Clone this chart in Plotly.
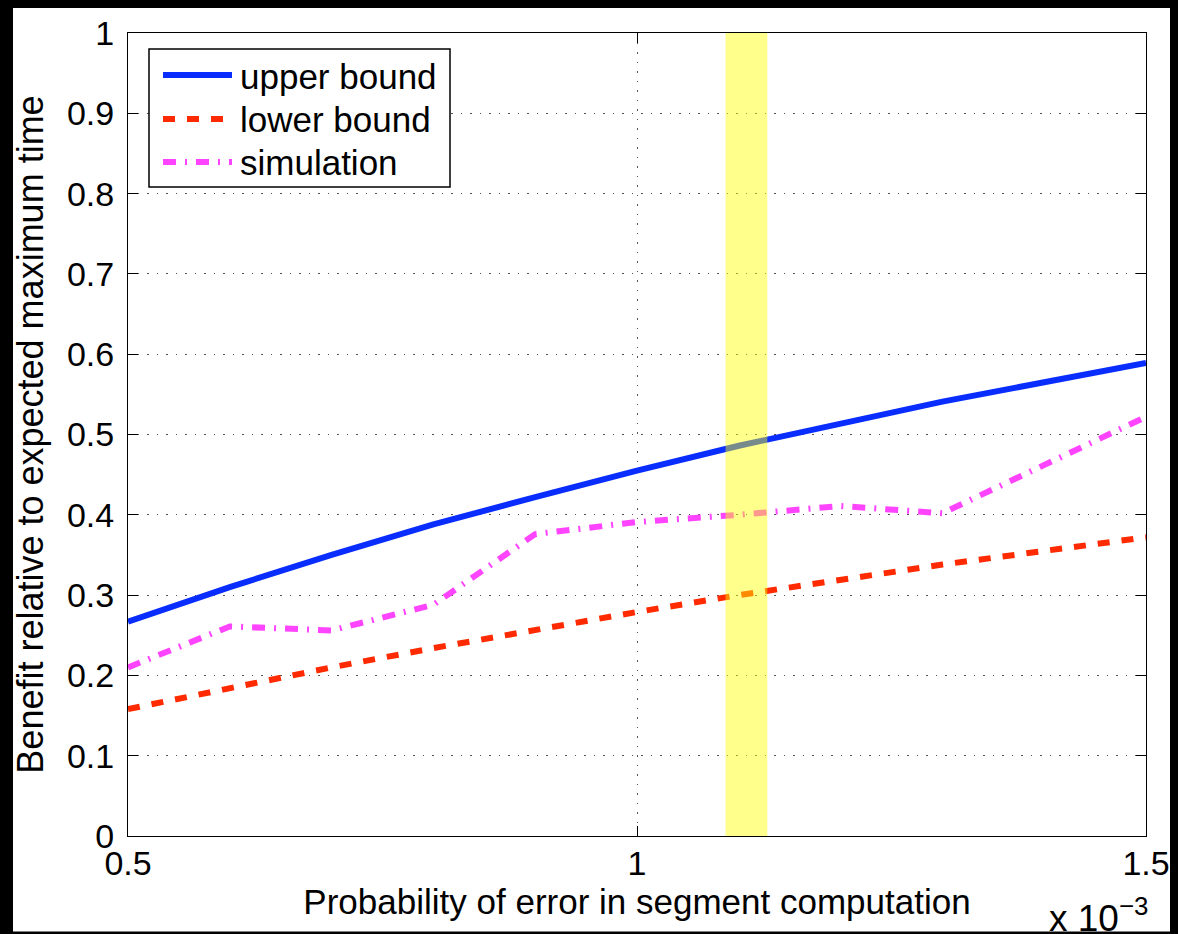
import plotly.graph_objects as go

# ---------------- data ----------------
x_vals = [0.5, 0.6, 0.7, 0.8, 0.9, 1.0, 1.1, 1.2, 1.3, 1.4, 1.5]  # x 10^-3
upper_bound = [0.267, 0.310, 0.350, 0.388, 0.422, 0.455, 0.486, 0.514, 0.541, 0.565, 0.589]
lower_bound = [0.158, 0.184, 0.210, 0.234, 0.257, 0.279, 0.300, 0.319, 0.338, 0.355, 0.372]
simulation = [0.210, 0.261, 0.256, 0.288, 0.376, 0.391, 0.400, 0.411, 0.402, 0.462, 0.522]

series_names = ["upper bound", "lower bound", "simulation"]
series_colors = ["#0a2dff", "#ff2a00", "#ff44ff"]
series_dash = ["solid", "12px,12px", "13px,9px,2px,9px"]

x_tick_vals = [0.5, 1.0, 1.5]
x_tick_text = ["0.5", "1", "1.5"]
y_tick_vals = [0, 0.1, 0.2, 0.3, 0.4, 0.5, 0.6, 0.7, 0.8, 0.9, 1.0]
y_tick_text = ["0", "0.1", "0.2", "0.3", "0.4", "0.5", "0.6", "0.7", "0.8", "0.9", "1"]

highlight_band = [1.087, 1.128]

x_title = "Probability of error in segment computation"
y_title = "Benefit relative to expected maximum time"
x_exponent = "x 10<sup>−3</sup>"

# ---------------- layout constants ----------------
OFF = 8  # default page body margin
W, H = 1178 - OFF, 934 - OFF
ML, MR, MT, MB = 128 - OFF, 32, 33 - OFF, 98
PW, PH = W - ML - MR, H - MT - MB
FONT = "Liberation Sans, Arial, Helvetica, sans-serif"


def px_x(px):
    """window pixel -> paper x"""
    return (px - OFF - ML) / PW


def px_y(py):
    """window pixel -> paper y"""
    return (H - MB - (py - OFF)) / PH


fig = go.Figure()
series = [upper_bound, lower_bound, simulation]
for name, vals, col, dash in zip(series_names, series, series_colors, series_dash):
    fig.add_trace(go.Scatter(
        x=x_vals, y=vals, mode="lines", name=name,
        line=dict(color=col, width=6, dash=dash),
        showlegend=False,
    ))

shapes = []
# highlighted band (semi-transparent, over the lines)
shapes.append(dict(type="rect", xref="x", yref="paper",
                   x0=highlight_band[0], x1=highlight_band[1], y0=0, y1=1,
                   fillcolor="rgba(255,255,0,0.45)", line=dict(width=0), layer="above"))

# custom legend (MATLAB style)
leg_left, leg_right, leg_top, leg_bottom = 149, 450, 49, 187
shapes.append(dict(type="rect", xref="paper", yref="paper",
                   x0=px_x(leg_left), x1=px_x(leg_right), y0=px_y(leg_bottom), y1=px_y(leg_top),
                   fillcolor="white", line=dict(color="black", width=1.5), layer="above"))
annotations = []
row_y = [75, 119, 162]
for name, col, dash, ry in zip(series_names, series_colors, series_dash, row_y):
    shapes.append(dict(type="line", xref="paper", yref="paper",
                       x0=px_x(163), x1=px_x(232), y0=px_y(ry), y1=px_y(ry),
                       line=dict(color=col, width=6, dash=dash), layer="above"))
    annotations.append(dict(xref="paper", yref="paper", x=px_x(238), y=px_y(ry + 1),
                            text=name, showarrow=False, xanchor="left", yanchor="middle",
                            font=dict(family=FONT, size=35, color="black")))

# exponent label
annotations.append(dict(xref="paper", yref="paper", x=px_x(1150), y=px_y(941),
                        text=x_exponent, showarrow=False, xanchor="right", yanchor="bottom",
                        font=dict(family=FONT, size=37, color="black")))

# black frame edges of the original screenshot
shapes.append(dict(type="rect", xref="paper", yref="paper", x0=px_x(-5), x1=px_x(13),
                   y0=px_y(H + 20), y1=px_y(-5), fillcolor="black", line=dict(width=0), layer="above"))
shapes.append(dict(type="rect", xref="paper", yref="paper", x0=px_x(-5), x1=px_x(1200),
                   y0=px_y(931.5), y1=px_y(960), fillcolor="black", line=dict(width=0), layer="above"))

axis_common = dict(
    showline=True, linecolor="black", linewidth=1, mirror="allticks",
    ticks="inside", ticklen=10, tickwidth=1, tickcolor="black",
    showgrid=True, gridcolor="#555555", gridwidth=1, griddash="1.5px,8px",
    zeroline=False,
    tickfont=dict(family=FONT, size=34, color="black"),
)

fig.update_layout(
    width=W, height=H,
    margin=dict(l=ML, r=MR, t=MT, b=MB, autoexpand=False),
    paper_bgcolor="white", plot_bgcolor="white",
    shapes=shapes, annotations=annotations,
    xaxis=dict(range=[0.5, 1.5], tickvals=x_tick_vals, ticktext=x_tick_text,
               title=dict(text=x_title, font=dict(family=FONT, size=35, color="black"), standoff=2),
               ticklabelstandoff=-3, **axis_common),
    yaxis=dict(range=[0, 1], tickvals=y_tick_vals, ticktext=y_tick_text,
               title=dict(text=y_title, font=dict(family=FONT, size=36, color="black"), standoff=12),
               ticklabelstandoff=6, **axis_common),
)

fig.write_html("out.html", post_script="document.body.style.background='black';")
